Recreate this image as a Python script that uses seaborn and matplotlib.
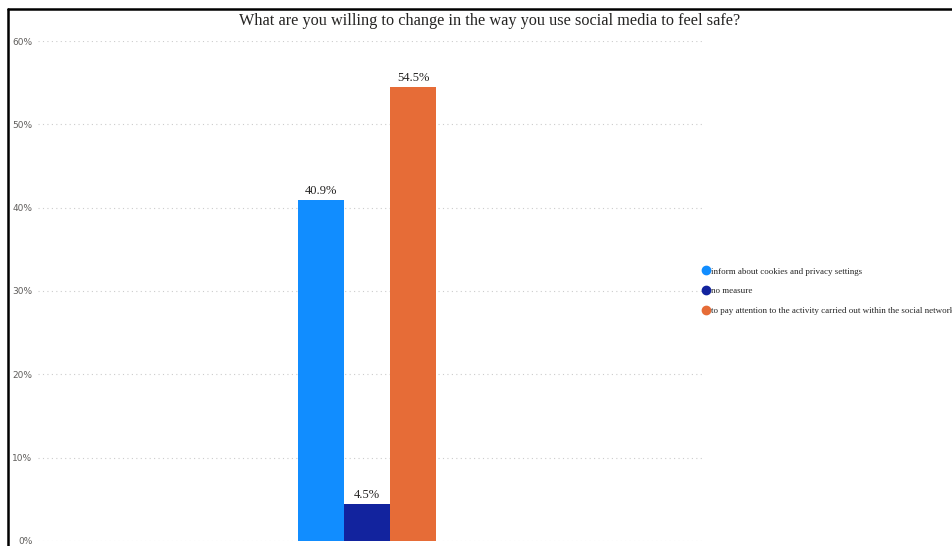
import matplotlib
matplotlib.use("Agg")
import matplotlib.pyplot as plt
import seaborn as sns
import pandas as pd
from matplotlib.lines import Line2D

categories = ["inform about cookies and privacy settings",
              "no measure",
              "to pay attention to the activity carried out within the social network"]
values = [0.409, 0.045, 0.545]
colors = ["#118DFF", "#12239E", "#E66C37"]
yticks = [0, 0.1, 0.2, 0.3, 0.4, 0.5, 0.6]
ytick_labels = ["0%", "10%", "20%", "30%", "40%", "50%", "60%"]
title = "What are you willing to change in the way you use social media to feel safe?"

sns.set_theme(style="white")
df = pd.DataFrame({"group": [""] * len(categories), "answer": categories, "value": values})

fig = plt.figure(figsize=(9.53, 5.46), dpi=100)
W, H = 953, 546
ax = fig.add_axes([38 / W, 5 / H, (703 - 38) / W, (541 - 41) / H])

sns.barplot(data=df, x="group", y="value", hue="answer", hue_order=categories,
            palette=colors, width=0.8, ax=ax, legend=False, saturation=1,
            edgecolor="none", linewidth=0)

ax.set_ylim(0, 0.6)
ax.set_xlim(-1.907, 1.948)
ax.set_yticks(yticks)
ax.set_yticklabels(ytick_labels, fontsize=6.5, color="#605E5C", family="DejaVu Sans")
ax.set_xticks([])
ax.set_xlabel("")
ax.set_ylabel("")
ax.tick_params(axis="y", length=0, pad=4)
for s in ax.spines.values():
    s.set_visible(False)
ax.yaxis.grid(True, linestyle=(0, (1, 3)), color="#CCCCCC", linewidth=0.8)
ax.set_axisbelow(True)

for cont in ax.containers:
    for bar in cont:
        h = bar.get_height()
        ax.annotate(f"{h*100:.1f}%", (bar.get_x() + bar.get_width() / 2, h),
                    xytext=(0, 2), textcoords="offset points", ha="center", va="bottom",
                    fontsize=9, family="Liberation Serif", color="#252423")

handles = [Line2D([0], [0], marker="o", linestyle="none", markersize=6,
                  markerfacecolor=c, markeredgecolor=c) for c in colors]
fig.legend(handles, categories, loc="center left", bbox_to_anchor=(697 / W, 1 - 291 / H),
           frameon=False, prop={"family": "Liberation Serif", "size": 6.5},
           handletextpad=0.0, labelspacing=1.25, borderaxespad=0, handlelength=1.2)

fig.text(490 / W, 1 - 21 / H, title, ha="center", va="center",
         fontsize=11.7, family="Liberation Serif", color="#252423")

fig.add_artist(Line2D([8 / W, 8 / W], [0, 1 - 9 / H], color="black", linewidth=1.8,
                      transform=fig.transFigure))
fig.add_artist(Line2D([8 / W, 1], [1 - 9 / H, 1 - 9 / H], color="black", linewidth=1.8,
                      transform=fig.transFigure))

fig.savefig("out.png", dpi=100)
